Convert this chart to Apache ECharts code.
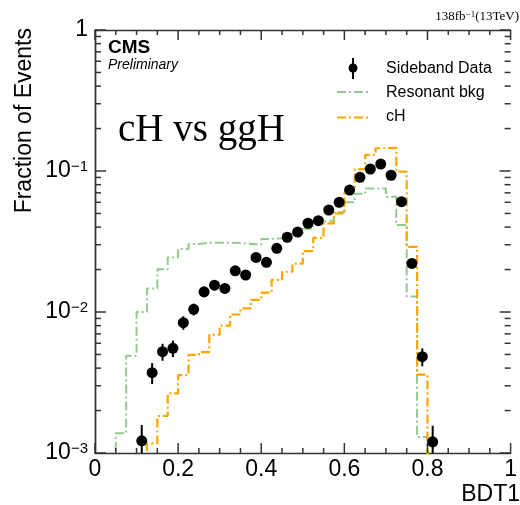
<!DOCTYPE html>
<html>
<head>
<meta charset="utf-8">
<script src="https://cdn.jsdelivr.net/npm/echarts@6/dist/echarts.min.js"></script>
<style>html,body{margin:0;padding:0;background:#fff;}#c{width:520px;height:505px;}</style>
</head>
<body>
<div id="c"></div>
<script>
// ---- data ----
const dataX = [0.1125,0.1375,0.1625,0.1875,0.2125,0.2375,0.2625,0.2875,0.3125,0.3375,0.3625,0.3875,0.4125,0.4375,0.4625,0.4875,0.5125,0.5375,0.5625,0.5875,0.6125,0.6375,0.6625,0.6875,0.7125,0.7375,0.7625,0.7875,0.8125];
const dataY = [1.22e-3,3.71e-3,5.23e-3,5.53e-3,8.4e-3,1.045e-2,1.39e-2,1.55e-2,1.47e-2,1.96e-2,1.83e-2,2.44e-2,2.25e-2,2.83e-2,3.39e-2,3.69e-2,4.26e-2,4.44e-2,5.29e-2,6.0e-2,7.33e-2,9.02e-2,0.1033,0.112,0.0933,0.0606,0.0221,4.82e-3,1.2e-3];
const dataErr = [0.36e-3,0.63e-3,0.72e-3,0.74e-3,0.92e-3,1.0e-3,1.2e-3,1.25e-3,1.2e-3,1.4e-3,1.35e-3,1.6e-3,1.5e-3,1.7e-3,1.85e-3,1.95e-3,2.1e-3,2.1e-3,2.3e-3,2.5e-3,2.7e-3,3.0e-3,3.3e-3,3.4e-3,3.1e-3,2.5e-3,1.5e-3,0.7e-3,0.36e-3];

const binWidth = 0.025;
const resStart = 0.05;
const resVals = [1.38e-3,4.9e-3,1.0e-2,1.47e-2,2.01e-2,2.44e-2,2.8e-2,3.03e-2,3.1e-2,3.1e-2,3.1e-2,3.08e-2,3.05e-2,3.0e-2,3.3e-2,3.33e-2,3.42e-2,3.6e-2,3.9e-2,4.4e-2,4.45e-2,5.1e-2,6.0e-2,6.9e-2,7.5e-2,7.5e-2,6.57e-2,4.14e-2,1.29e-2,1.3e-3];
const cHStart = 0.125;
const cHVals = [1.17e-3,1.83e-3,2.65e-3,3.57e-3,4.96e-3,5.2e-3,6.9e-3,8.0e-3,9.6e-3,1.06e-2,1.22e-2,1.37e-2,1.69e-2,1.93e-2,2.2e-2,2.7e-2,3.35e-2,4.25e-2,5.0e-2,7.3e-2,0.103,0.13,0.145,0.146,0.099,2.9e-2,3.6e-3];

const xMajor = [0,0.2,0.4,0.6,0.8,1];
const yMajor = [0.001,0.01,0.1,1];
const yMin = 1e-3, yMax = 1, xMin = 0, xMax = 1;
const seriesNames = ['Sideband Data','Resonant bkg','cH'];

// ---- helpers ----
const FLOOR = 1e-6; // below the axis minimum, clipped by the grid
function stepPoints(start, vals){
  const pts = [[start, FLOOR]];
  vals.forEach((v,i)=>{
    const lo = +(start + i*binWidth).toFixed(4), hi = +(start + (i+1)*binWidth).toFixed(4);
    pts.push([lo, v],[hi, v]);
  });
  pts.push([+(start + vals.length*binWidth).toFixed(4), FLOOR]);
  return pts;
}
const yMinor = [];
for (let e=-3; e<0; e++) for (let m=2; m<=9; m++) yMinor.push(+(m*Math.pow(10,e)).toPrecision(3));
const xMinor = [];
for (let i=1; i<20; i++) if (i%4) xMinor.push(+(i*0.05).toFixed(2));

const FONT = 'Liberation Sans';
const axisColor = '#333';
const green = '#92c98c', orange = '#ffa500';
const dashDot = [9,3,2,3];

function yLabel(v){
  const e = Math.round(Math.log10(v));
  if (e === 0) return '1';
  return '{b|10}{s|\u2212' + (-e) + '}';
}
function xAx(pos, labels){
  return {type:'value', min:xMin, max:xMax, interval:0.2, position:pos, splitLine:{show:false},
    axisLine:{show:true, onZero:false, lineStyle:{color:axisColor, width:1.4}},
    axisTick:{show:false},
    axisLabel: labels ? {show:true, margin:5, fontSize:23, fontFamily:FONT, color:'#000',
      formatter: v => String(+(+v).toFixed(1))} : {show:false}};
}
function yAx(pos, labels){
  return {type:'log', logBase:10, min:yMin, max:yMax, position:pos, splitLine:{show:false},
    axisLine:{show:true, lineStyle:{color:axisColor, width:1.4}},
    axisTick:{show:false},
    axisLabel: labels ? {show:true, margin:7, fontSize:23, fontFamily:FONT, color:'#000', formatter:yLabel,
      rich:{b:{fontSize:23, fontFamily:FONT, color:'#000'}, s:{fontSize:15, fontFamily:FONT, color:'#000', verticalAlign:'top'}}} : {show:false}};
}

const texts = [
  {type:'text', left:108, top:38, style:{text:'CMS', font:'bold 19px "Liberation Sans"', fill:'#000'}},
  {type:'text', left:108, top:58, style:{text:'Preliminary', font:'italic 14px "Liberation Sans"', fill:'#000'}},
  {type:'text', x:118, y:131, style:{text:'cH vs ggH', font:'39px "Liberation Serif"', fill:'#000', verticalAlign:'middle'}},
  {type:'text', x:519, y:17, style:{text:'{a|138fb}{s|\u22121}{a|(13TeV)}', align:'right', verticalAlign:'middle',
    rich:{a:{font:'13px "Liberation Serif"', fill:'#000'}, s:{font:'9px "Liberation Serif"', fill:'#000', verticalAlign:'top'}}}},
  {type:'text', x:25, y:28, rotation:Math.PI/2, style:{text:'Fraction of Events', font:'23px "Liberation Sans"', fill:'#000', align:'right', verticalAlign:'middle'}},
  {type:'text', x:520, y:495, style:{text:'BDT1', font:'23px "Liberation Sans"', fill:'#000', align:'right', verticalAlign:'middle'}},
  // legend
  {type:'line', shape:{x1:353, y1:58, x2:353, y2:79}, style:{stroke:'#000', lineWidth:2}},
  {type:'circle', shape:{cx:353, cy:68, r:4.5}, style:{fill:'#000'}},
  {type:'text', x:386, y:69, style:{text:seriesNames[0], font:'16px "Liberation Sans"', fill:'#000', verticalAlign:'middle'}},
  {type:'line', shape:{x1:337, y1:92, x2:369, y2:92}, style:{stroke:green, lineWidth:2, lineDash:dashDot}},
  {type:'text', x:386, y:93, style:{text:seriesNames[1], font:'16px "Liberation Sans"', fill:'#000', verticalAlign:'middle'}},
  {type:'line', shape:{x1:337, y1:117.5, x2:369, y2:117.5}, style:{stroke:orange, lineWidth:2.2, lineDash:dashDot}},
  {type:'text', x:386, y:117, style:{text:seriesNames[2], font:'16px "Liberation Sans"', fill:'#000', verticalAlign:'middle'}}
];

const option = {
  animation:false,
  backgroundColor:'#fff',
  grid:{left:95, top:30, width:424, height:423},
  xAxis:[ xAx('bottom', true), xAx('top', false) ],
  yAxis:[ yAx('left', true), yAx('right', false) ],
  series:[
    {name:seriesNames[1], type:'line', data:stepPoints(resStart, resVals), showSymbol:false, symbol:'none',
      lineStyle:{color:green, width:2, type:dashDot}, clip:true, z:2},
    {name:seriesNames[2], type:'line', data:stepPoints(cHStart, cHVals), showSymbol:false, symbol:'none',
      lineStyle:{color:orange, width:2.2, type:dashDot}, clip:true, z:3},
    {name:seriesNames[0]+' err', type:'custom', clip:true, z:4,
      data: dataX.map((x,i)=>[x, dataY[i], dataErr[i]]),
      renderItem:(params, api)=>{
        const x = api.value(0), y = api.value(1), e = api.value(2);
        const p1 = api.coord([x, Math.max(y - e, yMin*0.5)]);
        const p2 = api.coord([x, y + e]);
        return {type:'line', shape:{x1:p1[0], y1:p1[1], x2:p2[0], y2:p2[1]}, style:{stroke:'#000', lineWidth:2}};
      }},
    {name:seriesNames[0], type:'scatter', data: dataX.map((x,i)=>[x, dataY[i]]), symbol:'circle', symbolSize:11,
      itemStyle:{color:'#000', opacity:1}, z:5}
  ],
  graphic: texts
};
const chart = echarts.init(document.getElementById('c'), null, {renderer:'canvas'});
chart.setOption(option);

// axis ticks, positioned through the chart's own axis scales
const ticks = [];
const finder = {xAxisIndex:0, yAxisIndex:0};
function tickLine(x1, y1, x2, y2){
  ticks.push({type:'line', z:100, silent:true, shape:{x1:x1, y1:y1, x2:x2, y2:y2}, style:{stroke:axisColor, lineWidth:1.5}});
}
function xTick(v, len){
  const b = chart.convertToPixel(finder, [v, yMin]);
  const t = chart.convertToPixel(finder, [v, yMax]);
  if (!b || !t) return;
  tickLine(b[0], b[1], b[0], b[1] - len);
  tickLine(t[0], t[1], t[0], t[1] + len);
}
function yTick(v, len){
  const l = chart.convertToPixel(finder, [xMin, v]);
  const r = chart.convertToPixel(finder, [xMax, v]);
  if (!l || !r) return;
  tickLine(l[0], l[1], l[0] + len, l[1]);
  tickLine(r[0], r[1], r[0] - len, r[1]);
}
xMajor.forEach(v => xTick(v, 10));
xMinor.forEach(v => xTick(v, 5));
yMajor.forEach(v => yTick(v, 11));
yMinor.forEach(v => yTick(v, 6));
chart.setOption({graphic: texts.concat(ticks)});
</script>
</body>
</html>
